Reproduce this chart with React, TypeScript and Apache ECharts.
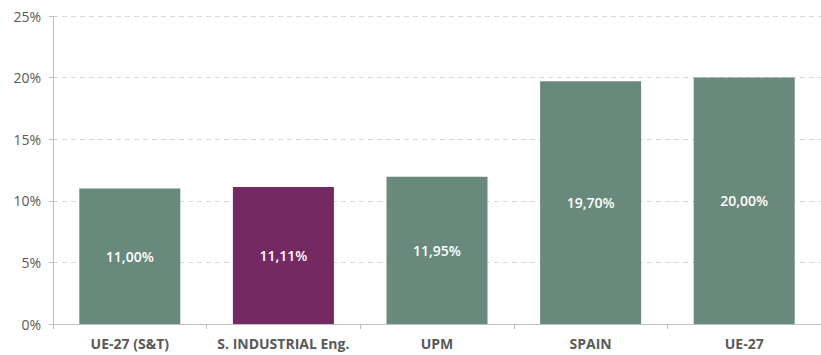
import React, { useEffect, useRef } from "react";
import * as echarts from "echarts";

const categories = ["UE-27 (S&T)", "S. INDUSTRIAL Eng.", "UPM", "SPAIN", "UE-27"];
const values = [11.0, 11.11, 11.95, 19.7, 20.0];
const highlightIndex = 1;
const yTicks = [0, 5, 10, 15, 20, 25];

const GREEN = "#68897c";
const PURPLE = "#742963";
const FONT = "'Open Sans', Lato, sans-serif";

export default function App() {
  const ref = useRef<HTMLDivElement>(null);
  useEffect(() => {
    if (!ref.current) return;
    const chart = echarts.init(ref.current, undefined, { renderer: "svg" });
    chart.setOption({
      animation: false,
      grid: { left: 53, right: -9, top: 16, bottom: 31, containLabel: false },
      xAxis: {
        type: "category",
        data: categories,
        boundaryGap: true,
        axisLine: { show: true, lineStyle: { color: "#bfbfbf", width: 1 } },
        axisTick: { show: true, length: 5, lineStyle: { color: "#bfbfbf" } },
        axisLabel: {
          interval: 0,
          color: "#595959",
          fontFamily: FONT,
          fontSize: 14,
          fontWeight: "bold",
          margin: 12,
        },
      },
      yAxis: {
        type: "value",
        min: yTicks[0],
        max: yTicks[yTicks.length - 1],
        interval: 5,
        axisLine: { show: true, lineStyle: { color: "#bfbfbf", width: 1 } },
        axisTick: { show: true, length: 4, lineStyle: { color: "#bfbfbf" } },
        splitLine: { show: true, lineStyle: { color: "#d9d9d9", type: [5, 4] } },
        axisLabel: {
          color: "#595959",
          fontFamily: FONT,
          fontSize: 14,
          margin: 12,
          formatter: (v: number) => `${v}%`,
        },
      },
      series: [
        {
          type: "bar",
          barWidth: 101,
          data: values.map((v, i) => ({
            value: v,
            itemStyle: { color: i === highlightIndex ? PURPLE : GREEN },
          })),
          label: {
            show: true,
            position: "inside",
            color: "#ffffff",
            fontFamily: FONT,
            fontSize: 14,
            fontWeight: 600,
            formatter: (p: any) => `${p.value.toFixed(2).replace(".", ",")}%`,
          },
        },
      ],
    });
    return () => chart.dispose();
  }, []);
  return (
    <div
      ref={ref}
      style={{ position: "absolute", left: 0, top: 0, width: 821, height: 355, background: "#fff" }}
    />
  );
}
